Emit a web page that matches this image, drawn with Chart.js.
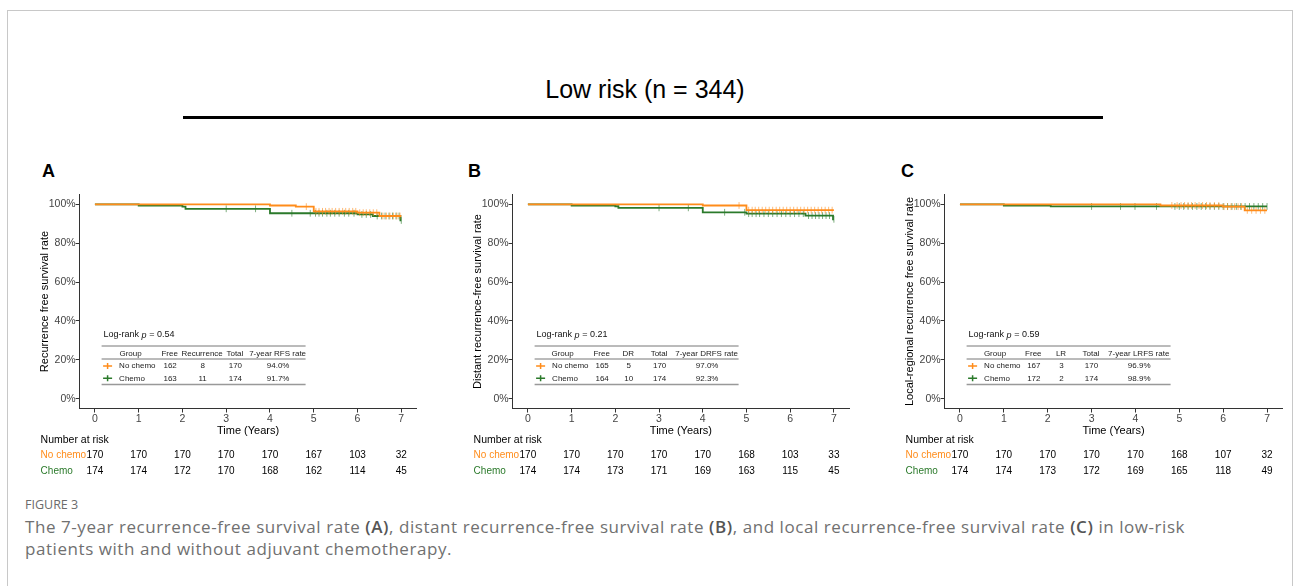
<!DOCTYPE html>
<html lang="en">
  <head>
    <title>Low risk survival curves</title>
    <meta charset="UTF-8" />
    <script src="https://cdn.jsdelivr.net/npm/chart.js@4.4.0/dist/chart.umd.min.js"></script>
    <style>
      body { margin: 0; background: #fff; width: 1293px; height: 586px; overflow: hidden; position: relative;
             font-family: "Liberation Sans", Arial, sans-serif; }
      #frame { position: absolute; left: 7px; top: 10px; width: 1284px; height: 640px; border: 1px solid #c8c8c8; }
      #title { position: absolute; left: 0; width: 1290px; top: 75px; text-align: center; font-size: 25px; color: #000; }
      #rule { position: absolute; left: 183px; top: 116px; width: 920px; height: 3px; background: #000; }
      .tag { position: absolute; top: 161px; font-weight: bold; font-size: 18px; color: #000; }
      canvas { position: absolute; top: 160px; }
      #figno { position: absolute; left: 25px; top: 496px; font-family: "Open Sans", Lato, sans-serif; font-size: 12.5px;
               color: #6b6b6b; }
      #caption { position: absolute; left: 25px; top: 516px; font-family: "Open Sans", Lato, sans-serif; font-size: 17px;
                 line-height: 22px; letter-spacing: 0.56px; color: #707070; white-space: nowrap; }
      #caption b { color: #555; font-weight: 600; }
    </style>
  </head>

  <body>
    <div id="frame"></div>
    <div id="title">Low risk (n = 344)</div>
    <div id="rule"></div>
    <div class="tag" style="left: 42px">A</div>
    <div class="tag" style="left: 468px">B</div>
    <div class="tag" style="left: 901px">C</div>
    <canvas id="chartA" width="385" height="320"></canvas>
    <canvas id="chartB" width="385" height="320"></canvas>
    <canvas id="chartC" width="385" height="320"></canvas>
    <div id="figno">FIGURE 3</div>
    <div id="caption">The 7-year recurrence-free survival rate <b>(A)</b>, distant recurrence-free survival rate <b>(B)</b>, and local recurrence-free survival rate <b>(C)</b> in low-risk<br />patients with and without adjuvant chemotherapy.</div>

    <script>
      // ---- shared ----
      const riskTimes = [0, 1, 2, 3, 4, 5, 6, 7]
      const groupNames = ['No chemo', 'Chemo']
      const orange = '#ff8c1a'
      const green = '#2b7a2b'

      // ---- panel A: recurrence free ----
      const aNoChemoT = [0, 4.0, 4.59, 5.0, 6.0, 6.5, 7.0]
      const aNoChemoS = [100, 99.4, 98.8, 96.4, 95.7, 94.0, 94.0]
      const aChemoT = [0, 1.0, 2.0, 2.07, 4.0, 6.0, 6.35, 6.98, 7.0]
      const aChemoS = [100, 99.4, 98.8, 97.7, 95.4, 94.8, 94.0, 91.7, 91.7]
      const aNoChemoCens = [4.83, 5.05, 5.12, 5.2, 5.27, 5.35, 5.42, 5.5, 5.58, 5.66, 5.73, 5.81, 5.89, 5.96,
        6.05, 6.13, 6.2, 6.28, 6.36, 6.44, 6.58, 6.66, 6.74, 6.82, 6.9, 6.97]
      const aChemoCens = [3.0, 3.67, 4.5, 4.92, 5.04, 5.12, 5.2, 5.3, 5.38, 5.48, 5.58, 5.7, 5.8, 5.92,
        6.1, 6.2, 6.3, 6.45, 6.55, 6.63, 6.72, 6.8, 6.88, 6.95, 7.0]
      const aRiskNoChemo = [170, 170, 170, 170, 170, 167, 103, 32]
      const aRiskChemo = [174, 174, 172, 170, 168, 162, 114, 45]
      const aHeader = ['Group', 'Free', 'Recurrence', 'Total', '7-year RFS rate']
      const aRowNoChemo = ['No chemo', '162', '8', '170', '94.0%']
      const aRowChemo = ['Chemo', '163', '11', '174', '91.7%']
      const aLogRank = '0.54'

      // ---- panel B: distant recurrence free ----
      const bNoChemoT = [0, 4.0, 5.0, 7.0]
      const bNoChemoS = [100, 99.4, 97.0, 97.0]
      const bChemoT = [0, 1.0, 2.0, 2.07, 4.0, 5.0, 6.35, 6.98, 7.0]
      const bChemoS = [100, 99.4, 99.0, 98.2, 95.9, 95.2, 94.2, 92.3, 92.3]
      const bNoChemoCens = [4.83, 5.05, 5.13, 5.2, 5.28, 5.36, 5.44, 5.52, 5.6, 5.68, 5.76, 5.84, 5.92, 6.0,
        6.08, 6.16, 6.24, 6.32, 6.4, 6.48, 6.56, 6.64, 6.72, 6.8, 6.88, 6.96]
      const bChemoCens = [3.0, 3.67, 4.5, 4.96, 5.05, 5.13, 5.22, 5.3, 5.4, 5.5, 5.6, 5.7, 5.8, 5.9, 6.0,
        6.1, 6.2, 6.3, 6.42, 6.5, 6.58, 6.66, 6.74, 6.82, 6.9, 7.0]
      const bRiskNoChemo = [170, 170, 170, 170, 170, 168, 103, 33]
      const bRiskChemo = [174, 174, 173, 171, 169, 163, 115, 45]
      const bHeader = ['Group', 'Free', 'DR', 'Total', '7-year DRFS rate']
      const bRowNoChemo = ['No chemo', '165', '5', '170', '97.0%']
      const bRowChemo = ['Chemo', '164', '10', '174', '92.3%']
      const bLogRank = '0.21'

      // ---- panel C: local-regional recurrence free ----
      const cNoChemoT = [0, 4.57, 5.99, 6.49, 7.0]
      const cNoChemoS = [100, 99.4, 98.8, 96.9, 96.9]
      const cChemoT = [0, 1.0, 2.07, 7.0]
      const cChemoS = [100, 99.4, 98.9, 98.9]
      const cNoChemoCens = [4.83, 4.95, 5.04, 5.12, 5.2, 5.28, 5.36, 5.45, 5.53, 5.62, 5.7, 5.8, 5.9, 6.02,
        6.1, 6.18, 6.26, 6.34, 6.42, 6.55, 6.65, 6.75, 6.85, 6.95]
      const cChemoCens = [3.0, 3.66, 3.99, 4.48, 4.9, 5.0, 5.1, 5.2, 5.3, 5.4, 5.5, 5.6, 5.7, 5.8, 5.9,
        6.0, 6.1, 6.2, 6.3, 6.4, 6.5, 6.6, 6.7, 6.8, 6.9, 7.0]
      const cRiskNoChemo = [170, 170, 170, 170, 170, 168, 107, 32]
      const cRiskChemo = [174, 174, 173, 172, 169, 165, 118, 49]
      const cHeader = ['Group', 'Free', 'LR', 'Total', '7-year LRFS rate']
      const cRowNoChemo = ['No chemo', '167', '3', '170', '96.9%']
      const cRowChemo = ['Chemo', '172', '2', '174', '98.9%']
      const cLogRank = '0.59'

      // survival value of a step curve at time t (for placing censor marks)
      const survAt = (T, S, t) => {
        let s = S[0]
        for (let i = 0; i < T.length; i++) if (T[i] <= t) s = S[i]
        return s
      }

      const panels = [
        {
          id: 'chartA', left: 80, right: 417, yTitle: 'Recurrence free survival rate',
          curves: [[aNoChemoT, aNoChemoS, aNoChemoCens], [aChemoT, aChemoS, aChemoCens]],
          risk: [aRiskNoChemo, aRiskChemo],
          header: aHeader, rows: [aRowNoChemo, aRowChemo], logRank: aLogRank,
          cols: [51, 90, 122.5, 155.3, 198],
        },
        {
          id: 'chartB', left: 512.7, right: 849.3, yTitle: 'Distant recurrence-free survival rate',
          curves: [[bNoChemoT, bNoChemoS, bNoChemoCens], [bChemoT, bChemoS, bChemoCens]],
          risk: [bRiskNoChemo, bRiskChemo],
          header: bHeader, rows: [bRowNoChemo, bRowChemo], logRank: bLogRank,
          cols: [50, 89, 115.6, 146.5, 194],
        },
        {
          id: 'chartC', left: 944.6, right: 1282.4, yTitle: 'Local-regional recurrence free survival rate',
          curves: [[cNoChemoT, cNoChemoS, cNoChemoCens], [cChemoT, cChemoS, cChemoCens]],
          risk: [cRiskNoChemo, cRiskChemo],
          header: cHeader, rows: [cRowNoChemo, cRowChemo], logRank: cLogRank,
          cols: [50.4, 88.7, 116.4, 146.4, 194.1],
        },
      ]

      const colors = [orange, green]
      const censColors = ['rgba(255,140,26,0.6)', 'rgba(43,122,43,0.6)']
      const yAxisW = 41.6
      const xAxisH = 29.1
      const canvasW = 385
      const canvasH = 320
      const plotTop = 34.6
      const plotBottom = 248.5
      const font = '"Liberation Sans", Arial, sans-serif'

      const tablesPlugin = (p) => ({
        id: 'kmTables',
        afterDraw(chart) {
          const { ctx, chartArea: ca, scales } = chart
          const L = ca.left
          const B = ca.bottom
          ctx.save()

          // log-rank label
          ctx.textBaseline = 'middle'
          ctx.textAlign = 'left'
          ctx.fillStyle = '#111'
          let tx = L + 24
          const ly = B - 73.5
          ctx.font = '9px ' + font
          ctx.fillText('Log-rank ', tx, ly)
          tx += ctx.measureText('Log-rank ').width
          ctx.font = 'italic 9px ' + font
          ctx.fillText('p', tx, ly)
          tx += ctx.measureText('p').width
          ctx.font = '9px ' + font
          ctx.fillText(' = ' + p.logRank, tx, ly)

          // table rules
          const rule = (y, w, c) => {
            ctx.beginPath()
            ctx.strokeStyle = c
            ctx.lineWidth = w
            ctx.moveTo(L + 22, y)
            ctx.lineTo(L + 226, y)
            ctx.stroke()
          }
          rule(B - 62.5, 1, '#777')
          rule(B - 49.5, 1, '#777')
          rule(B - 24, 1.6, '#999')

          // header
          ctx.font = '8px ' + font
          ctx.fillStyle = '#222'
          ctx.textAlign = 'center'
          p.header.forEach((h, i) => ctx.fillText(h, L + p.cols[i], B - 55.2))

          // rows
          const rowY = [B - 42.5, B - 30.2]
          p.rows.forEach((row, r) => {
            const y = rowY[r]
            ctx.strokeStyle = colors[r]
            ctx.lineWidth = 1.5
            ctx.beginPath()
            ctx.moveTo(L + 23.5, y)
            ctx.lineTo(L + 32.5, y)
            ctx.moveTo(L + 28, y - 3)
            ctx.lineTo(L + 28, y + 3)
            ctx.stroke()
            row.forEach((v, i) => {
              if (i === 0) {
                ctx.textAlign = 'left'
                ctx.fillText(v, L + 39.5, y)
              } else {
                ctx.textAlign = 'center'
                ctx.fillText(v, L + p.cols[i] + 0.5, y)
              }
            })
          })

          // number at risk
          ctx.font = '10.5px ' + font
          ctx.textAlign = 'left'
          ctx.fillStyle = '#000'
          ctx.fillText('Number at risk', L - 39, B + 31.5)
          ctx.font = '10px ' + font
          const riskY = [B + 46.5, B + 62.5]
          groupNames.forEach((g, r) => {
            ctx.textAlign = 'left'
            ctx.fillStyle = colors[r]
            ctx.fillText(g, L - 39, riskY[r])
            ctx.fillStyle = '#000'
            ctx.textAlign = 'center'
            p.risk[r].forEach((n, i) => {
              ctx.fillText(String(n), scales.x.getPixelForValue(riskTimes[i]), riskY[r])
            })
          })
          ctx.restore()
        },
      })

      panels.forEach((p) => {
        const canvas = document.getElementById(p.id)
        const canvasLeft = p.left - yAxisW
        canvas.style.left = canvasLeft + 'px'

        const datasets = []
        p.curves.forEach(([T, S, C], g) => {
          datasets.push({
            type: 'line',
            label: groupNames[g],
            data: T.map((t, i) => ({ x: t, y: S[i] })),
            stepped: true,
            borderColor: colors[g],
            borderWidth: 1.8,
            pointRadius: 0,
            fill: false,
            order: g === 0 ? 1 : 3,
          })
          datasets.push({
            type: 'scatter',
            label: groupNames[g] + ' censored',
            data: C.map((t) => ({ x: t, y: survAt(T, S, t) })),
            pointStyle: 'line',
            rotation: 90,
            pointRadius: 3.4,
            borderColor: censColors[g],
            borderWidth: 1,
            showLine: false,
            order: g === 0 ? 0 : 2,
          })
        })

        new Chart(canvas.getContext('2d'), {
          data: { datasets: datasets },
          options: {
            responsive: false,
            animation: false,
            layout: {
              padding: {
                left: 0,
                top: plotTop,
                right: canvasLeft + canvasW - p.right,
                bottom: canvasH - plotBottom - xAxisH,
              },
            },
            scales: {
              x: {
                type: 'linear',
                min: -0.35,
                max: 7.35,
                afterBuildTicks: (s) => { s.ticks = riskTimes.map((v) => ({ value: v })) },
                afterFit: (s) => { s.height = xAxisH },
                grid: { drawOnChartArea: false, drawTicks: true, tickLength: 4, color: '#333' },
                border: { display: true, color: '#333', width: 1 },
                ticks: { padding: 0, color: '#444', font: { family: font, size: 10.5 }, maxRotation: 0 },
                title: { display: true, text: 'Time (Years)', color: '#000', padding: 0,
                  font: { family: font, size: 11 } },
              },
              y: {
                type: 'linear',
                min: -5,
                max: 105,
                afterBuildTicks: (s) => { s.ticks = [0, 20, 40, 60, 80, 100].map((v) => ({ value: v })) },
                afterFit: (s) => { s.width = yAxisW },
                grid: { drawOnChartArea: false, drawTicks: true, tickLength: 4, color: '#333' },
                border: { display: true, color: '#333', width: 1 },
                ticks: { padding: 0, color: '#444', callback: (v) => v + '%',
                  font: { family: font, size: 10.5 } },
                title: { display: true, text: p.yTitle, color: '#000', padding: 0,
                  font: { family: font, size: 11 } },
              },
            },
            plugins: {
              legend: { display: false },
              tooltip: { enabled: false },
            },
          },
          plugins: [tablesPlugin(p)],
        })
      })
    </script>
  </body>
</html>
